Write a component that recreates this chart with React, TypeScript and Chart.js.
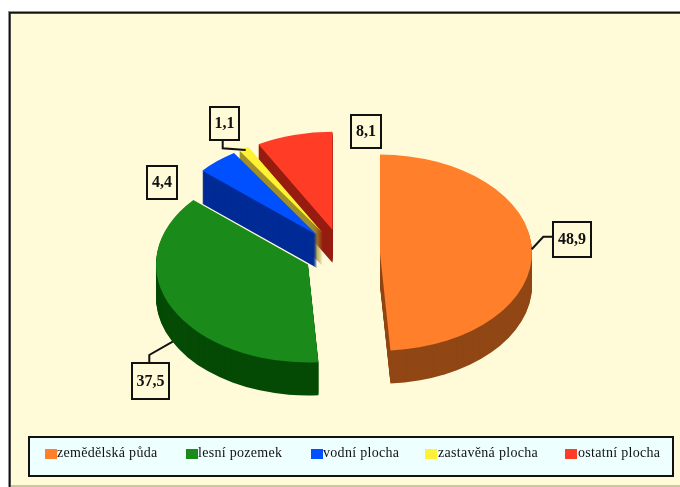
import React, { useEffect, useRef } from "react";
import { Chart, registerables } from "chart.js";

Chart.register(...registerables);

const categories = ["zemědělská půda", "lesní pozemek", "vodní plocha", "zastavěná plocha", "ostatní plocha"];
const shares = [48.9, 37.5, 4.4, 1.1, 8.1];
const valueLabels = ["48,9", "37,5", "4,4", "1,1", "8,1"];
const topColors = ["#FF7F2A", "#1A8A1A", "#0050FF", "#FFF133", "#FF3C26"];
const wallColors = ["#914715", "#054A05", "#002B96", "#A0902A", "#961C10"];
const legendSwatchX = [45, 186, 311, 425, 565];
const legendTextX = [57, 198, 323, 438, 578];

const PIE = { cx: 342, cy: 253.5, radius: 152, squash: 0.645, explode: 38, depth: 33 };
const BG = "#FFFBD9";
const SERIF = '"Liberation Serif", "Times New Roman", serif';

// box: x, y, w, h in canvas pixels; leader: polyline from the box to the slice
const labelBoxes = [
  { box: [553, 222, 38, 35], leader: [[553, 236.7], [543.3, 236.7], [531.7, 249.3]] },
  { box: [132, 363, 37, 36], leader: [[149.3, 363], [149.3, 355], [172.7, 341.7]] },
  { box: [147, 166, 30, 33], leader: [] },
  { box: [210, 107, 29, 33], leader: [[222.7, 140], [222.7, 148.3], [245.7, 150]] },
  { box: [351, 115, 30, 33], leader: [] },
];

const frameAndLegend = {
  id: "frameAndLegend",
  beforeDraw(chart: any) {
    const { ctx, width, height } = chart;
    ctx.save();
    ctx.fillStyle = "#FFFFFF";
    ctx.fillRect(0, 0, width, height);
    ctx.fillStyle = BG;
    ctx.fillRect(9, 12, width - 9, height - 12);
    ctx.fillStyle = "#C9C8A2";
    ctx.fillRect(9, 485, width - 9, 2);
    ctx.strokeStyle = "#8E8E8E";
    ctx.lineWidth = 3;
    ctx.strokeRect(9.5, 12.5, width + 20, height + 20);
    ctx.strokeStyle = "#111111";
    ctx.lineWidth = 1.5;
    ctx.strokeRect(9.75, 12.75, width + 20, height + 20);
    ctx.restore();
  },
  afterDraw(chart: any) {
    const { ctx } = chart;
    ctx.save();
    // legend
    ctx.fillStyle = "#EEFFFF";
    ctx.fillRect(29, 437, 644, 39);
    ctx.strokeStyle = "#111111";
    ctx.lineWidth = 2;
    ctx.strokeRect(29, 437, 644, 39);
    ctx.textBaseline = "alphabetic";
    ctx.textAlign = "left";
    ctx.font = `14px ${SERIF}`;
    categories.forEach((name, i) => {
      ctx.fillStyle = topColors[i];
      ctx.fillRect(legendSwatchX[i], 449, 12, 10);
      ctx.fillStyle = "#111111";
      ctx.letterSpacing = "0.3px";
      ctx.fillText(name, legendTextX[i], 457);
    });
    ctx.letterSpacing = "0px";
    // value labels
    labelBoxes.forEach(({ box, leader }, i) => {
      const [x, y, w, h] = box;
      ctx.strokeStyle = "#111111";
      ctx.lineWidth = 2;
      if (leader.length) {
        ctx.beginPath();
        leader.forEach(([px, py], k) => (k ? ctx.lineTo(px, py) : ctx.moveTo(px, py)));
        ctx.stroke();
      }
      ctx.fillStyle = BG;
      ctx.fillRect(x, y, w, h);
      ctx.strokeRect(x, y, w, h);
      ctx.fillStyle = "#111111";
      ctx.font = `bold 16px ${SERIF}`;
      ctx.textAlign = "center";
      ctx.textBaseline = "middle";
      ctx.fillText(valueLabels[i], x + w / 2, y + h / 2 + 0.5);
    });
    ctx.restore();
  },
};

// Draws the library's own arc elements on a squashed, exploded plane with a dark extrusion below.
const tiltedPie = {
  id: "tiltedPie",
  beforeDatasetsDraw(chart: any) {
    const { ctx } = chart;
    const arcs = chart.getDatasetMeta(0).data;
    const centerY = (el: any) => {
      const mid = (el.startAngle + el.endAngle) / 2;
      return Math.sin(mid);
    };
    const order = arcs.map((_: any, i: number) => i).sort((a: number, b: number) => centerY(arcs[a]) - centerY(arcs[b]));
    order.forEach((i: number) => {
      const el = arcs[i];
      const mid = (el.startAngle + el.endAngle) / 2;
      const place = (dy: number) => {
        ctx.translate(PIE.cx + Math.cos(mid) * PIE.explode, PIE.cy + dy + Math.sin(mid) * PIE.explode * PIE.squash);
        ctx.scale(1, PIE.squash);
        ctx.translate(-el.x, -el.y);
      };
      for (let dy = PIE.depth; dy >= 1; dy--) {
        ctx.save();
        place(dy);
        ctx.beginPath();
        ctx.moveTo(el.x, el.y);
        ctx.arc(el.x, el.y, el.outerRadius, el.startAngle, el.endAngle);
        ctx.closePath();
        ctx.fillStyle = wallColors[i];
        ctx.fill();
        ctx.restore();
      }
      ctx.save();
      place(0);
      el.draw(ctx);
      ctx.restore();
    });
    return false;
  },
};

export default function App() {
  const ref = useRef<HTMLCanvasElement>(null);
  useEffect(() => {
    const chart = new Chart(ref.current!, {
      type: "pie",
      data: {
        labels: categories,
        datasets: [{ data: shares, backgroundColor: topColors, borderWidth: 0 }],
      },
      options: {
        animation: false,
        responsive: false,
        radius: PIE.radius,
        plugins: { legend: { display: false }, tooltip: { enabled: false } },
      } as any,
      plugins: [frameAndLegend, tiltedPie],
    });
    return () => chart.destroy();
  }, []);
  return (
    <div style={{ position: "fixed", left: 0, top: 0, width: 680, height: 487 }}>
      <canvas ref={ref} width={680} height={487} style={{ display: "block" }} />
    </div>
  );
}
